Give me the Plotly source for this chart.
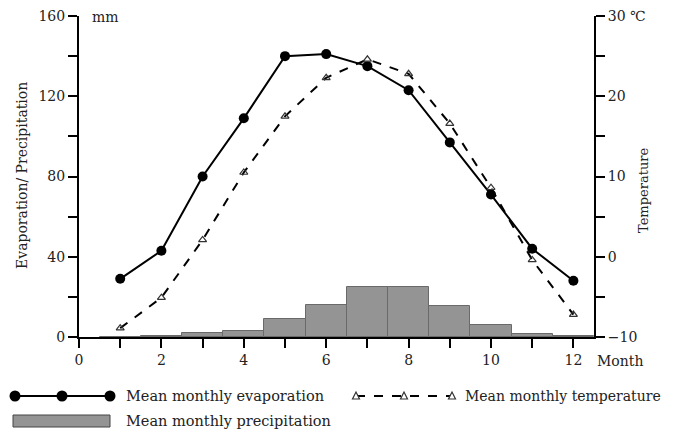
import plotly.graph_objects as go

months = list(range(1, 13))
evaporation = [29, 43, 80, 109, 140, 141, 135, 123, 97, 71, 44, 28]
temperature = [-8.9, -5.1, 2.1, 10.5, 17.5, 22.3, 24.6, 22.8, 16.6, 8.6, -0.4, -7.2]
precipitation = [0, 0.6, 2.1, 3.1, 9, 16, 25, 25, 15.5, 6, 1.5, 0.4]

x_ticks = list(range(0, 13))
x_labels = [str(v) if v % 2 == 0 else "" for v in x_ticks]
left_ticks = [0, 20, 40, 60, 80, 100, 120, 140, 160]
left_labels = [str(v) if v % 40 == 0 else "" for v in left_ticks]
right_ticks = [-10, -5, 0, 5, 10, 15, 20, 25, 30]
right_labels = ["−10", "", "0", "", "10", "", "20", "", "30 ℃"]

FONT = "DejaVu Serif"
TXT = "#222222"

# page body has an 8px margin: the figure starts at (8, 8) on screen
OFF = 8
L, T, PW, PH = 79, 16, 515, 321  # plot area on screen

fig = go.Figure()
fig.add_trace(go.Bar(x=months, y=precipitation, width=1,
                     marker=dict(color="#949494", line=dict(color="#6a6a6a", width=1)),
                     name="Mean monthly precipitation", showlegend=False))
fig.add_trace(go.Scatter(x=months, y=evaporation, mode="lines+markers",
                         line=dict(color="black", width=2),
                         marker=dict(symbol="circle", size=10, color="black"),
                         name="Mean monthly evaporation", showlegend=False))
fig.add_trace(go.Scatter(x=months, y=temperature, mode="lines+markers", yaxis="y2",
                         line=dict(color="black", width=2, dash="dash"),
                         marker=dict(symbol="triangle-up-open", size=7, color="#333333",
                                     line=dict(width=1.2)),
                         name="Mean monthly temperature", showlegend=False))

axis_common = dict(showline=True, linecolor="black", linewidth=2, ticks="outside",
                   ticklen=9, tickwidth=2, tickcolor="black", showgrid=False, zeroline=False,
                   ticklabeloverflow="allow", automargin=False,
                   tickfont=dict(family=FONT, size=14, color=TXT))

W, H = 674 - OFF, 437 - OFF
fig.update_layout(
    width=W, height=H,
    margin=dict(l=L - OFF, r=W - (L - OFF) - PW, t=T - OFF, b=H - (T - OFF) - PH),
    paper_bgcolor="white", plot_bgcolor="white",
    bargap=0,
    xaxis=dict(range=[0, 12.5], tickmode="array", tickvals=x_ticks, ticktext=x_labels,
               **axis_common),
    yaxis=dict(range=[0, 160], tickmode="array", tickvals=left_ticks, ticktext=left_labels,
               **axis_common),
    yaxis2=dict(range=[-10, 30], overlaying="y", side="right", tickmode="array",
                tickvals=right_ticks, ticktext=right_labels, **axis_common),
)

def px2paper(px, py):
    return (px - L) / PW, (T + PH - py) / PH

anns = []
def ann(text, px, py, xanchor="center", yanchor="middle", angle=0, size=14.5):
    x, y = px2paper(px, py)
    anns.append(dict(text=text, x=x, y=y, xref="paper", yref="paper", showarrow=False,
                     xanchor=xanchor, yanchor=yanchor, textangle=angle,
                     font=dict(family=FONT, size=size, color=TXT)))

ann("Evaporation/ Precipitation", 22, 176, angle=-90, size=14)
ann("Temperature", 644, 191, angle=-90, size=13)
ann("mm", 90, 17, xanchor="left", size=14)
ann("Month", 595, 361, xanchor="left", size=14)
ann("Mean monthly evaporation", 124, 396, xanchor="left")
ann("Mean monthly temperature", 463, 396, xanchor="left", size=14)
ann("Mean monthly precipitation", 124, 421, xanchor="left")
fig.update_layout(annotations=anns)

shapes = []
def line(px0, py0, px1, py1, dash="solid", width=2):
    x0, y0 = px2paper(px0, py0)
    x1, y1 = px2paper(px1, py1)
    shapes.append(dict(type="line", xref="paper", yref="paper", x0=x0, y0=y0, x1=x1, y1=y1,
                       line=dict(color="black", width=width, dash=dash)))

line(15, 396, 110, 396)
for cx in (15, 62, 110):
    x0, y0 = px2paper(cx - 5.5, 396 - 5.5)
    x1, y1 = px2paper(cx + 5.5, 396 + 5.5)
    shapes.append(dict(type="circle", xref="paper", yref="paper", x0=x0, y0=y0, x1=x1, y1=y1,
                       fillcolor="black", line=dict(color="black", width=0)))
line(356, 396, 452, 396, dash="dash")
for cx in (356, 404, 452):
    a = px2paper(cx - 3.5, 399)
    b = px2paper(cx + 3.5, 399)
    c = px2paper(cx, 392)
    path = f"M{a[0]},{a[1]} L{b[0]},{b[1]} L{c[0]},{c[1]} Z"
    shapes.append(dict(type="path", xref="paper", yref="paper", path=path,
                       fillcolor="white", line=dict(color="#333333", width=1.2)))
x0, y0 = px2paper(13, 415)
x1, y1 = px2paper(110, 427)
shapes.append(dict(type="rect", xref="paper", yref="paper", x0=x0, y0=y0, x1=x1, y1=y1,
                   fillcolor="#949494", line=dict(color="#444444", width=1)))
fig.update_layout(shapes=shapes)

fig.write_html("out.html")
